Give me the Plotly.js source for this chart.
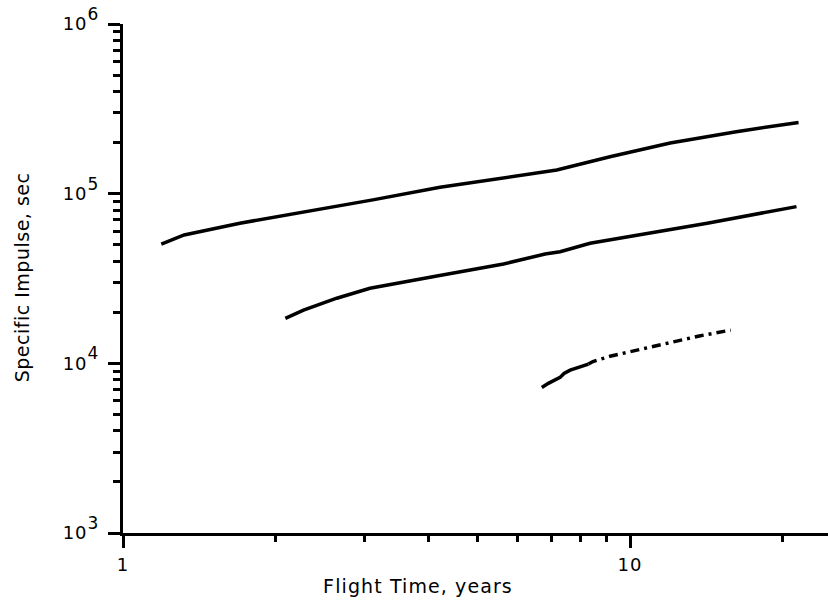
<!DOCTYPE html>
<html>
<head>
<meta charset="utf-8">
<script src="https://cdn.plot.ly/plotly-3.0.1.min.js"></script>
<style>
  html, body { margin: 0; padding: 0; background: #fff; }
  #chart { width: 828px; height: 605px; }
  .main-svg .xtick text, .main-svg .ytick text { letter-spacing: 1px; }
  .main-svg .ytick text tspan { font-size: 17px !important; }
  .main-svg .annotation-text.xt { letter-spacing: 1.1px; }
  .main-svg .annotation-text.yt { letter-spacing: 0.5px; }
</style>
</head>
<body>
<div id="chart"></div>
<script>
// Upper curve
const flightTime1 = [1.19, 1.32, 1.70, 2.30, 3.11, 4.22, 5.06, 6.07, 7.17, 9.13, 12.0, 16.2, 21.5];
const isp1 = [50500, 57100, 67000, 78400, 91900, 109000, 118000, 129000, 138000, 165000, 199000, 232000, 263000];

// Middle curve
const flightTime2 = [2.09, 2.27, 2.64, 3.07, 4.16, 5.63, 6.80, 7.28, 8.34, 10.5, 14.2, 21.3];
const isp2 = [18400, 20600, 24200, 27700, 32700, 38500, 44100, 45500, 51000, 57100, 67000, 83900];

// Lower curve, solid part
const flightTime3a = [6.70, 6.90, 7.28, 7.41, 7.62, 8.28];
const isp3a = [7210, 7620, 8260, 8720, 9120, 9900];

// Lower curve, dash-dot part
const flightTime3b = [8.28, 8.45, 9.13, 10.1, 11.8, 13.7, 15.8];
const isp3b = [9900, 10250, 11000, 11800, 13100, 14500, 15700];

// Axis ticks
const xMajorVals = [1, 10];
const xMajorText = ["1", "10"];
const xMinorVals = [2, 3, 4, 5, 6, 7, 8, 9, 20];
const yMajorVals = [1e3, 1e4, 1e5, 1e6];
const yExponents = ["3", "4", "5", "6"];
const yMinorVals = [];
[1e3, 1e4, 1e5].forEach(d => { for (let k = 2; k <= 9; k++) yMinorVals.push(k * d); });

const xTitle = "Flight Time, years";
const yTitle = "Specific Impulse, sec";

const lineStyle = { color: "#000", width: 3.5 };

const traces = [
  { x: flightTime1, y: isp1, mode: "lines", line: lineStyle, hoverinfo: "skip" },
  { x: flightTime2, y: isp2, mode: "lines", line: lineStyle, hoverinfo: "skip" },
  { x: flightTime3a, y: isp3a, mode: "lines", line: lineStyle, hoverinfo: "skip" },
  { x: flightTime3b, y: isp3b, mode: "lines", line: { color: "#000", width: 3.5, dash: "9px,5px,3px,5px" }, hoverinfo: "skip" }
];

const fontFam = "DejaVu Sans, Liberation Sans, Arial, sans-serif";

const layout = {
  width: 828, height: 605,
  margin: { l: 123, r: 0, t: 24, b: 72 },
  paper_bgcolor: "#fff", plot_bgcolor: "#fff",
  showlegend: false,
  font: { family: fontFam, color: "#000", size: 18 },
  xaxis: {
    type: "log",
    range: [0, 1.3905],
    showgrid: false, zeroline: false,
    showline: true, linecolor: "#000", linewidth: 3,
    ticks: "outside", ticklen: 12, tickwidth: 3, tickcolor: "#000",
    tickmode: "array", tickvals: xMajorVals, ticktext: xMajorText,
    tickfont: { family: fontFam, size: 18, color: "#000" },
    ticklabelstandoff: 1,
    minor: { tickmode: "array", tickvals: xMinorVals, ticks: "outside", ticklen: 6, tickwidth: 3, tickcolor: "#000", showgrid: false }
  },
  yaxis: {
    type: "log",
    range: [3, 6],
    showgrid: false, zeroline: false,
    showline: true, linecolor: "#000", linewidth: 3,
    ticks: "outside", ticklen: 12, tickwidth: 3, tickcolor: "#000",
    tickmode: "array", tickvals: yMajorVals,
    ticktext: yExponents.map(e => "10<sup>" + e + "</sup>"),
    tickfont: { family: fontFam, size: 18, color: "#000" },
    ticklabelstandoff: 5,
    minor: { tickmode: "array", tickvals: yMinorVals, ticks: "outside", ticklen: 7, tickwidth: 3, tickcolor: "#000", showgrid: false }
  },
  annotations: [
    { text: xTitle, xref: "paper", yref: "paper", x: (418 - 123) / 705, y: -(586 - 533) / 509,
      xanchor: "center", yanchor: "middle", showarrow: false,
      font: { family: fontFam, size: 19, color: "#000" } },
    { text: yTitle, xref: "paper", yref: "paper", x: (22 - 123) / 705, y: (533 - 277) / 509,
      xanchor: "center", yanchor: "middle", textangle: -90, showarrow: false,
      font: { family: fontFam, size: 19, color: "#000" } }
  ]
};

function enlargeExponents(gd) {
  gd.querySelectorAll(".ytick text tspan").forEach(t => {
    t.style.setProperty("font-size", "17px", "important");
  });
}

Plotly.newPlot("chart", traces, layout, { staticPlot: true, displayModeBar: false }).then(gd => {
  const anns = gd.querySelectorAll(".annotation-text");
  if (anns[0]) anns[0].classList.add("xt");
  if (anns[1]) anns[1].classList.add("yt");
  enlargeExponents(gd);
});
</script>
</body>
</html>
